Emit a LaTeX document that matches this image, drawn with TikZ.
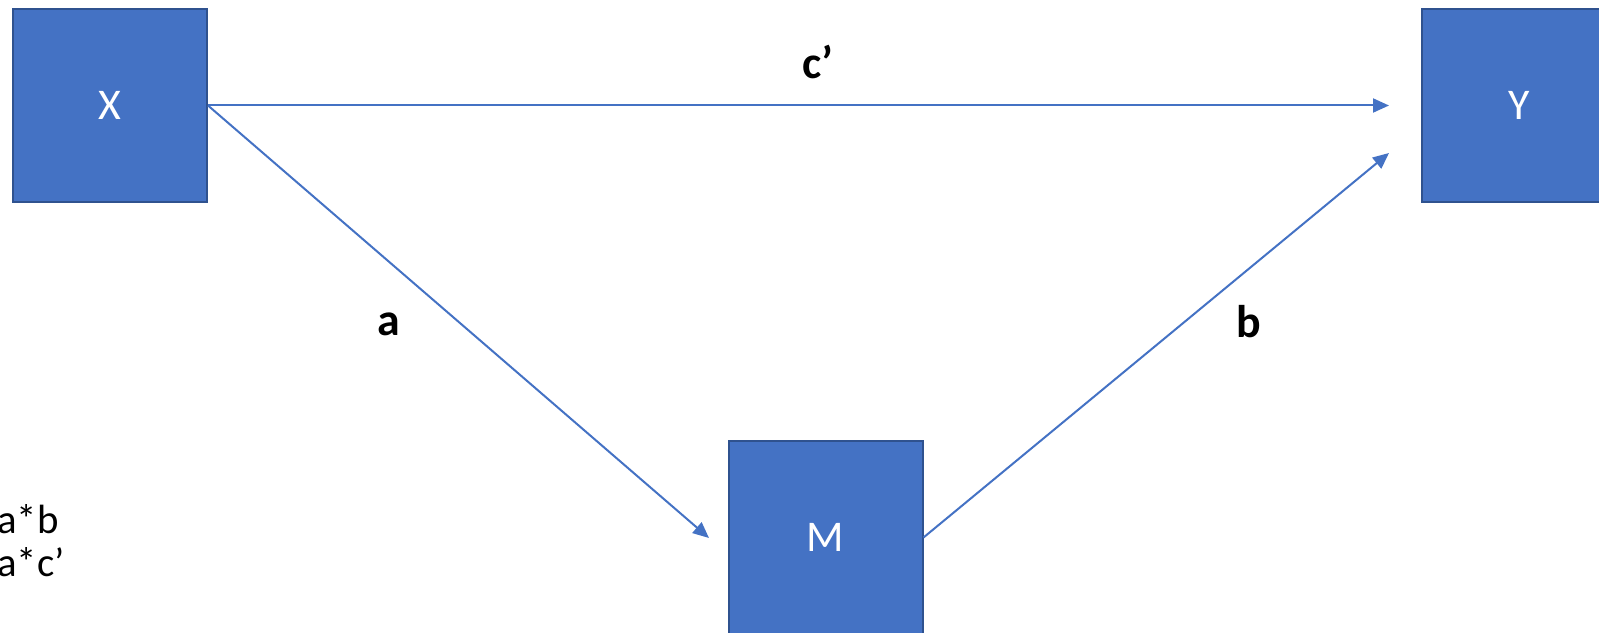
\documentclass[tikz,border=0pt]{standalone}
\usepackage{fontspec}
\setmainfont{Carlito}
\usetikzlibrary{arrows.meta}
\definecolor{boxblue}{HTML}{4472C4}
\definecolor{boxedge}{HTML}{2F528F}
\tikzset{
  varbox/.style={draw=boxedge, line width=2bp, fill=boxblue, minimum width=194bp, minimum height=193bp, inner sep=0pt, text=white, font=\fontsize{44}{52}\selectfont},
  path/.style={draw=boxblue, line width=2bp, -{Triangle[length=16bp,width=14bp]}},
  lbl/.style={font=\fontsize{46}{54}\selectfont\bfseries, inner sep=0pt},
  note/.style={font=\fontsize{41}{48}\selectfont, inner sep=0pt, anchor=base west}
}
\begin{document}
\begin{tikzpicture}[x=1bp, y=-1bp]
\useasboundingbox (0,0) rectangle (1599,633);
\node[varbox] (X) at (110,105.5) {X};
\node[varbox] (Y) at (1519,105.5) {Y};
\node[varbox] (M) at (825.5,537.5) {M};
\coordinate (tXY) at (1389,105.5);
\coordinate (tXM) at (709,538);
\coordinate (tMY) at (1389,153);
\draw[path] (X.east) -- (tXY);
\draw[path] (X.east) -- (tXM);
\draw[path] (M.east) -- (tMY);
\node[lbl] (lc) at (818,62) {c’};
\node[lbl] (la) at (389,324) {a};
\node[lbl] (lb) at (1249,322) {b};
\node[note] (n1) at (-3,533) {a*b};
\node[note] (n2) at (-3,576) {a*c’};
\end{tikzpicture}
\end{document}
